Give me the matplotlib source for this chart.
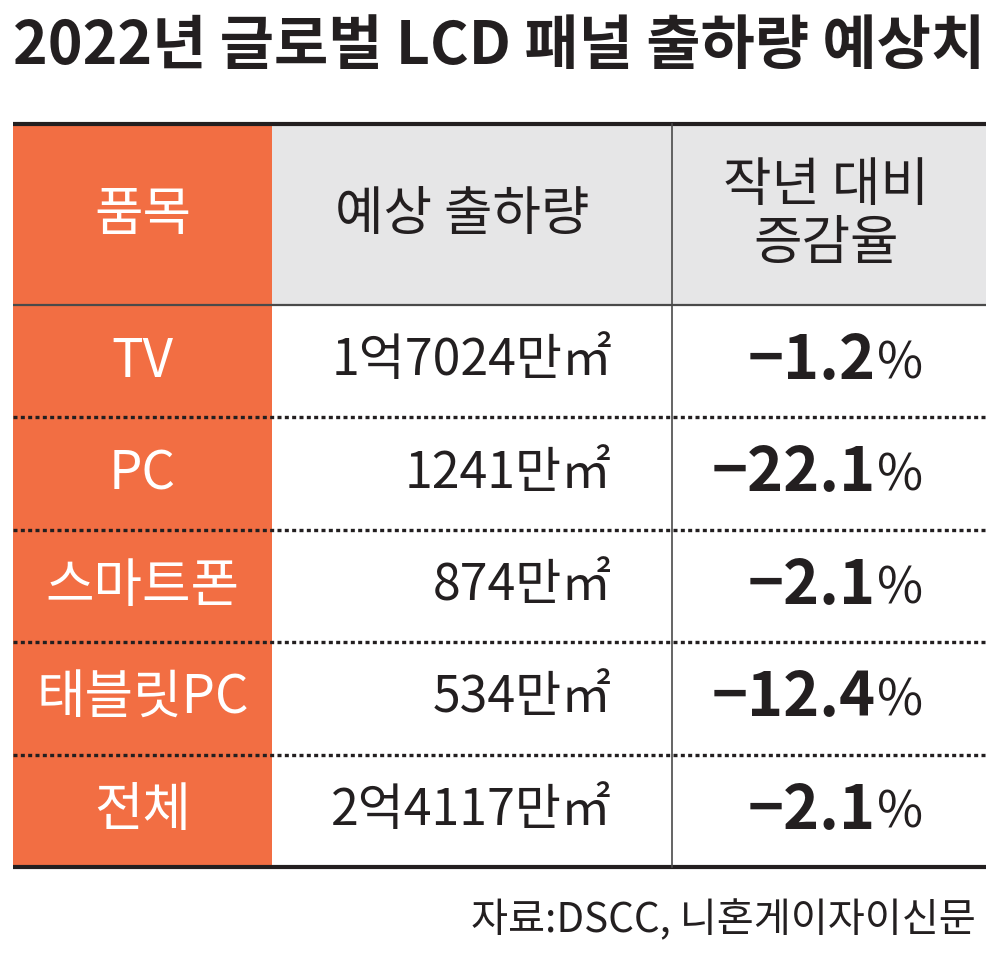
import matplotlib
matplotlib.use("Agg")
import matplotlib.pyplot as plt
from matplotlib.patches import Rectangle

plt.rcParams['font.family'] = ['Noto Sans CJK KR', 'DejaVu Sans']

title = "2022년 글로벌 LCD 패널 출하량 예상치"
headers = ["품목", "예상 출하량", "작년 대비\n증감율"]
categories = ["TV", "PC", "스마트폰", "태블릿PC", "전체"]
shipments = ["1억7024만㎡", "1241만㎡", "874만㎡", "534만㎡", "2억4117만㎡"]
changes = ["−1.2", "−22.1", "−2.1", "−12.4", "−2.1"]
source = "자료:DSCC, 니혼게이자이신문"

ORANGE = "#F26E43"
GRAY = "#E6E6E7"
DARK = "#231F20"

fig = plt.figure(figsize=(10, 9.61), dpi=100)
ax = fig.add_axes([0, 0, 1, 1])
ax.set_xlim(0, 1000)
ax.set_ylim(961, 0)
ax.axis('off')

left, right = 13, 986
col1, col2 = 272, 672
top, head_bot, bottom = 124, 305, 867
n = len(categories)
row_h = (bottom - head_bot) / n

# backgrounds
ax.add_patch(Rectangle((left, top), col1 - left, bottom - top, color=ORANGE, lw=0, zorder=1))
ax.add_patch(Rectangle((col1, top), right - col1, head_bot - top, color=GRAY, lw=0, zorder=1))

# lines
ax.plot([left, right], [top, top], color=DARK, lw=3, solid_capstyle='butt', zorder=3)
ax.plot([left, right], [bottom, bottom], color=DARK, lw=3, solid_capstyle='butt', zorder=3)
ax.plot([left, right], [head_bot, head_bot], color="#4a4a4a", lw=1.6, solid_capstyle='butt', zorder=3)
ax.plot([col2, col2], [top, bottom], color="#4a4a4a", lw=1.2, zorder=3)
for i in range(1, n):
    y = head_bot + i * row_h
    ax.plot([left, right], [y, y], color=DARK, lw=2.4, linestyle=(0, (1.2, 1.0)),
            dash_capstyle='butt', zorder=3)

# title
ax.text(499, 47, title, fontsize=42.5, fontweight='bold', color=DARK,
        ha='center', va='center', zorder=4)

# headers
hy = (top + head_bot) / 2
ax.text((left + col1) / 2, hy, headers[0], fontsize=38, fontweight='medium', color='white',
        ha='center', va='center', zorder=4)
ax.text(462, hy, headers[1], fontsize=38, fontweight='medium', color=DARK,
        ha='center', va='center', zorder=4)
ax.text(826, hy, headers[2], fontsize=38, fontweight='medium', color=DARK,
        ha='center', va='center', linespacing=1.05, zorder=4)

# rows
for i, (c, s, p) in enumerate(zip(categories, shipments, changes)):
    y = head_bot + (i + 0.5) * row_h
    ax.text((left + col1) / 2, y, c, fontsize=38, fontweight='medium', color='white',
            ha='center', va='center', zorder=4)
    ax.text(612, y, s, fontsize=36, color=DARK, ha='right', va='center', zorder=4)
    ax.text(876, y, p, fontsize=44, fontweight='bold', color=DARK,
            ha='right', va='center', zorder=4)
    ax.text(877, y + 3, "%", fontsize=36, color=DARK, ha='left', va='center', zorder=4)

# source
ax.text(976, 920, source, fontsize=29, color=DARK, ha='right', va='center', zorder=4)

fig.savefig("out.png", dpi=100)
